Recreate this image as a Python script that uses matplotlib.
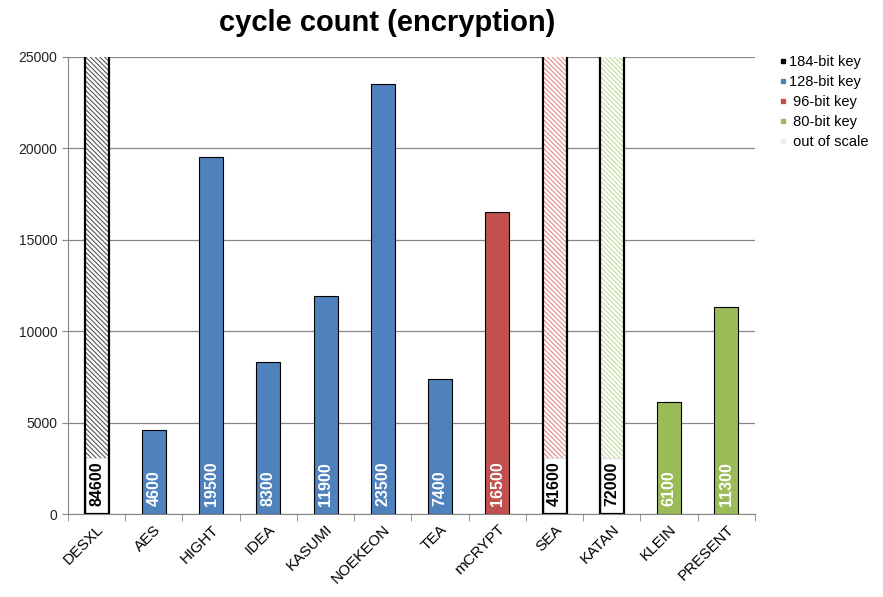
import numpy as np
import matplotlib.pyplot as plt
from matplotlib.lines import Line2D

plt.rcParams['font.family'] = ['Liberation Sans', 'DejaVu Sans']
plt.rcParams['hatch.linewidth'] = 0.8

ciphers = ["DESXL", "AES", "HIGHT", "IDEA", "KASUMI", "NOEKEON", "TEA",
           "mCRYPT", "SEA", "KATAN", "KLEIN", "PRESENT"]
cycles = [84600, 4600, 19500, 8300, 11900, 23500, 7400, 16500, 41600, 72000, 6100, 11300]
keybits = [184, 128, 128, 128, 128, 128, 128, 96, 96, 80, 80, 80]
key_colors = {184: "#000000", 128: "#4F81BD", 96: "#C0504D", 80: "#9BBB59"}
hatch_colors = {184: "#555555", 96: "#E28A88", 80: "#C6DA9C"}
ymax = 25000

fig = plt.figure(figsize=(8.83, 5.97), dpi=100)
ax = fig.add_axes([0.077, 0.139, 0.778, 0.766])

x = np.arange(len(ciphers))
w = 0.42
for i in range(len(ciphers)):
    c = key_colors[keybits[i]]
    if cycles[i] > ymax:
        # bar is off the chart: hatched, outlined, label on a white box
        ax.bar(x[i], cycles[i], w, color="white", edgecolor=hatch_colors[keybits[i]],
               hatch="\\\\\\\\\\\\\\", linewidth=0, zorder=3)
        ax.bar(x[i], cycles[i], w, fill=False, edgecolor="black", linewidth=1.6, zorder=5)
        ax.bar(x[i], 3050, w * 0.92, color="white", edgecolor="#E0E0E0", linewidth=0.8, zorder=4)
        ax.text(x[i], 450, str(cycles[i]), rotation=90, ha="center", va="bottom",
                fontsize=11.5, fontweight="bold", color="black", zorder=6)
    else:
        ax.bar(x[i], cycles[i], w, color=c, edgecolor="black", linewidth=0.8, zorder=3)
        ax.text(x[i], 450, str(cycles[i]), rotation=90, ha="center", va="bottom",
                fontsize=11.5, fontweight="bold", color="white", zorder=6)

ax.set_xlim(-0.5, len(ciphers) - 0.5)
ax.set_ylim(0, ymax)
ax.set_yticks(np.arange(0, ymax + 1, 5000))
ax.yaxis.grid(True, color="#868686", linewidth=0.9)
ax.set_axisbelow(True)
ax.tick_params(axis="y", labelsize=10, labelcolor="#222222", color="#868686", length=4)

ax.set_xticks(x)
ax.set_xticklabels(ciphers, rotation=45, ha="right", rotation_mode="anchor", fontsize=11)
ax.set_xticks(np.arange(-0.5, len(ciphers)), minor=True)
ax.tick_params(axis="x", which="major", length=0, pad=6)
ax.tick_params(axis="x", which="minor", length=5, color="#868686")

for s in ["top", "right"]:
    ax.spines[s].set_visible(False)
ax.spines["left"].set_color("#868686")
ax.spines["bottom"].set_color("#868686")

fig.text(0.438, 0.962, "cycle count (encryption)", fontsize=21, fontweight="bold",
         ha="center", va="center")

handles = [Line2D([], [], marker="s", linestyle="", markersize=3.5, color=key_colors[k])
           for k in [184, 128, 96, 80]]
handles.append(Line2D([], [], marker="s", linestyle="", markersize=3.5, color="#EEEEE2"))
labels = ["184-bit key", "128-bit key", " 96-bit key", " 80-bit key", " out of scale"]
fig.legend(handles, labels, loc="upper left", bbox_to_anchor=(0.874, 0.918), frameon=False,
           fontsize=10.5, handletextpad=0.05, handlelength=0.7, labelspacing=0.42,
           borderaxespad=0)

fig.savefig("out.png", dpi=100)
